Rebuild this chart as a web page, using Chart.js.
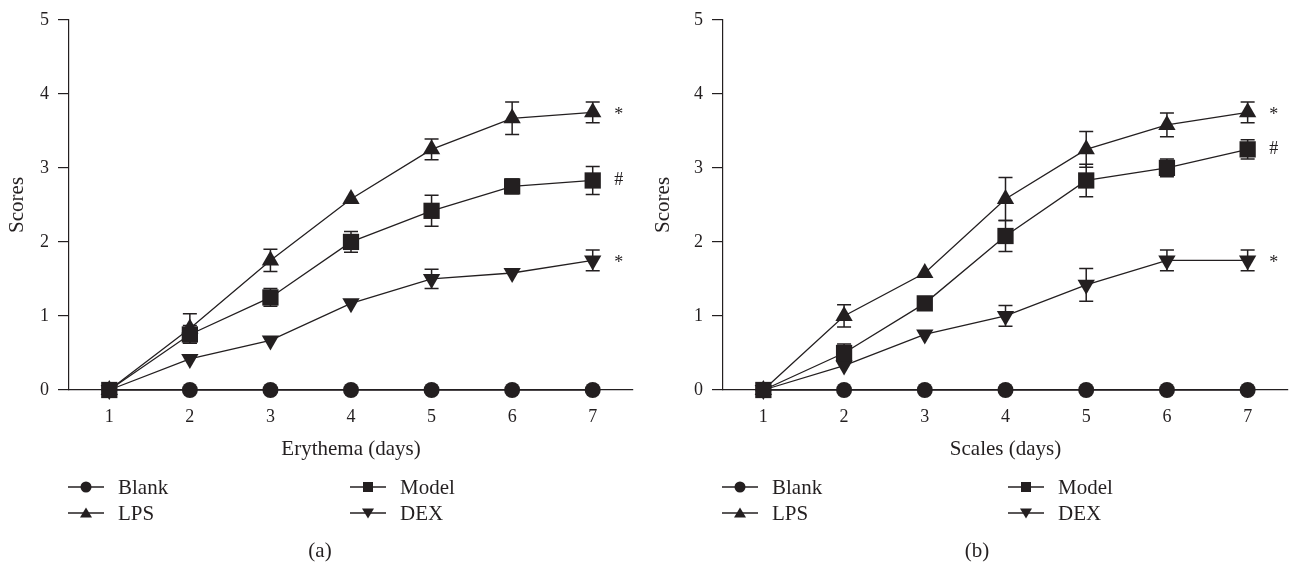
<!DOCTYPE html>
<html>
<head>
<meta charset="utf-8">
<script src="https://cdn.jsdelivr.net/npm/chart.js@4.4.1/dist/chart.umd.min.js"></script>
<style>
    body { margin: 0; background: #fff; }
    #wrap { position: relative; width: 1293px; height: 569px; font-family: "Liberation Serif", "DejaVu Serif", serif; color: #231f20; }
    canvas { position: absolute; top: 0; }
    .item { position: absolute; display: flex; align-items: center; font-size: 21px; height: 24px; line-height: 24px; }
    .item svg { margin-right: 14px; }
    .tag { position: absolute; font-size: 21px; transform: translateX(-50%); }
</style>
</head>
<body>
<div id="wrap">
    <canvas id="chartA" width="646" height="569" style="left:0"></canvas>
    <canvas id="chartB" width="647" height="569" style="left:646px"></canvas>
</div>
<script>
// data
const days = [1, 2, 3, 4, 5, 6, 7];
const dayTicks = [1, 2, 3, 4, 5, 6, 7];
const scoreTicks = [0, 1, 2, 3, 4, 5];

const seriesNames = ["Blank", "Model", "LPS", "DEX"];

// (a) Erythema
const blankA = [0, 0, 0, 0, 0, 0, 0];
const modelA = [0, 0.75, 1.25, 2.0, 2.42, 2.75, 2.83];
const lpsA = [0, 0.83, 1.75, 2.58, 3.25, 3.67, 3.75];
const dexA = [0, 0.42, 0.67, 1.17, 1.5, 1.58, 1.75];
const modelErrA = [0, 0.12, 0.12, 0.14, 0.21, 0.1, 0.19];
const lpsErrA = [0, 0.2, 0.15, 0, 0.14, 0.22, 0.14];
const dexErrA = [0, 0, 0, 0, 0.13, 0, 0.14];

// (b) Scales
const blankB = [0, 0, 0, 0, 0, 0, 0];
const modelB = [0, 0.5, 1.17, 2.08, 2.83, 3.0, 3.25];
const lpsB = [0, 1.0, 1.58, 2.58, 3.25, 3.58, 3.75];
const dexB = [0, 0.33, 0.75, 1.0, 1.42, 1.75, 1.75];
const modelErrB = [0, 0.12, 0, 0.21, 0.22, 0.12, 0.13];
const lpsErrB = [0, 0.15, 0, 0.29, 0.24, 0.16, 0.14];
const dexErrB = [0, 0, 0, 0.14, 0.22, 0.14, 0.14];

// significance marks at day 7: Model, LPS, DEX
const sigMarks = ["#", "*", "*"];

const INK = "#231f20";
const FONT = '"Liberation Serif", "DejaVu Serif", serif';

const markers = {
    Blank: { style: "circle", radius: 8, rotation: 0 },
    Model: { style: "rect", radius: 11.5, rotation: 0 },
    LPS: { style: "triangle", radius: 10, rotation: 0 },
    DEX: { style: "triangle", radius: 10, rotation: 180 },
};

// error bars drawn under the markers
const errorBars = {
    id: "errorBars",
    beforeDatasetsDraw(chart) {
        const { ctx, scales } = chart;
        ctx.save();
        ctx.strokeStyle = INK;
        ctx.lineWidth = 1.5;
        chart.data.datasets.forEach((ds) => {
            (ds.errors || []).forEach((e, i) => {
                if (!e) return;
                const px = scales.x.getPixelForValue(ds.data[i].x);
                const top = scales.y.getPixelForValue(ds.data[i].y + e);
                const bot = scales.y.getPixelForValue(ds.data[i].y - e);
                ctx.beginPath();
                ctx.moveTo(px, top);
                ctx.lineTo(px, bot);
                ctx.moveTo(px - 7, top);
                ctx.lineTo(px + 7, top);
                ctx.moveTo(px - 7, bot);
                ctx.lineTo(px + 7, bot);
                ctx.stroke();
            });
        });
        ctx.restore();
    },
    afterDatasetsDraw(chart) {
        const { ctx, scales } = chart;
        ctx.save();
        ctx.fillStyle = INK;
        ctx.font = "18px " + FONT;
        ctx.textAlign = "center";
        ctx.textBaseline = "middle";
        chart.data.datasets.forEach((ds) => {
            if (!ds.sig) return;
            const last = ds.data[ds.data.length - 1];
            const px = scales.x.getPixelForValue(last.x) + 26;
            const py = scales.y.getPixelForValue(last.y);
            ctx.fillText(ds.sig, px, py + (ds.sig === "*" ? 3 : 0));
        });
        ctx.restore();
    },
};

function makeDataset(name, values, errors, sig, order) {
    const m = markers[name];
    return {
        label: name,
        data: days.map((d, i) => ({ x: d, y: values[i] })),
        errors: errors,
        sig: sig,
        order: order,
        clip: false,
        borderColor: INK,
        backgroundColor: INK,
        borderWidth: 1.3,
        pointStyle: m.style,
        pointRadius: m.radius,
        pointRotation: m.rotation,
        pointBorderWidth: 0,
        pointBackgroundColor: INK,
        tension: 0,
    };
}

function makeChart(id, xTitle, yWidth, padRight, sets) {
    const ctx = document.getElementById(id).getContext("2d");
    return new Chart(ctx, {
        type: "line",
        data: { datasets: sets },
        options: {
            responsive: false,
            animation: false,
            layout: {
                autoPadding: false,
                padding: { left: 0, top: 16, right: padRight, bottom: 569 - 390 - 76 },
            },
            plugins: { legend: { display: false }, tooltip: { enabled: false } },
            scales: {
                x: {
                    type: "linear",
                    min: 0.5,
                    max: 7.5,
                    afterBuildTicks: (s) => {
                        s.ticks = dayTicks.map((v) => ({ value: v }));
                    },
                    afterFit: (s) => {
                        s.height = 76;
                    },
                    ticks: { color: INK, padding: 11, font: { family: FONT, size: 18 } },
                    grid: { drawOnChartArea: false, tickLength: 5, color: INK, lineWidth: 1.2 },
                    border: { color: INK, width: 1.2 },
                    title: {
                        display: true,
                        text: xTitle,
                        color: INK,
                        font: { family: FONT, size: 21 },
                        padding: { top: 4, bottom: 4 },
                    },
                },
                y: {
                    min: 0,
                    max: 5,
                    afterBuildTicks: (s) => {
                        s.ticks = scoreTicks.map((v) => ({ value: v }));
                    },
                    afterFit: (s) => {
                        s.width = yWidth;
                    },
                    ticks: { color: INK, padding: 9, font: { family: FONT, size: 18 } },
                    grid: { drawOnChartArea: false, tickLength: 11, color: INK, lineWidth: 1.2 },
                    border: { color: INK, width: 1.2 },
                    title: {
                        display: true,
                        text: "Scores",
                        color: INK,
                        font: { family: FONT, size: 21 },
                        padding: { top: 5, bottom: 4 },
                    },
                },
            },
        },
        plugins: [errorBars],
    });
}

makeChart("chartA", "Erythema (days)", 69, 13, [
    makeDataset("Model", modelA, modelErrA, sigMarks[0], 0),
    makeDataset("LPS", lpsA, lpsErrA, sigMarks[1], 1),
    makeDataset("DEX", dexA, dexErrA, sigMarks[2], 2),
    makeDataset("Blank", blankA, null, null, 3),
]);

makeChart("chartB", "Scales (days)", 77, 5, [
    makeDataset("Model", modelB, modelErrB, sigMarks[0], 0),
    makeDataset("LPS", lpsB, lpsErrB, sigMarks[1], 1),
    makeDataset("DEX", dexB, dexErrB, sigMarks[2], 2),
    makeDataset("Blank", blankB, null, null, 3),
]);

// legend + panel labels
function iconSvg(name) {
    const m = markers[name];
    let shape = "";
    if (m.style === "circle") shape = '<circle cx="18" cy="9" r="5.5" fill="' + INK + '"/>';
    else if (m.style === "rect") shape = '<rect x="13" y="4" width="10" height="10" fill="' + INK + '"/>';
    else if (m.rotation === 0) shape = '<polygon points="18,3.5 24,13.5 12,13.5" fill="' + INK + '"/>';
    else shape = '<polygon points="12,4.5 24,4.5 18,14.5" fill="' + INK + '"/>';
    return '<svg width="36" height="18" viewBox="0 0 36 18"><line x1="0" y1="9" x2="36" y2="9" stroke="' + INK + '" stroke-width="1.3"/>' + shape + "</svg>";
}

const wrap = document.getElementById("wrap");
const legendCols = [[68, 350], [722, 1008]];
const legendRows = [487, 513];
const legendGrid = [["Blank", "Model"], ["LPS", "DEX"]];

legendCols.forEach((cols) => {
    legendGrid.forEach((row, r) => {
        row.forEach((name, c) => {
            const el = document.createElement("div");
            el.className = "item";
            el.style.left = cols[c] + "px";
            el.style.top = legendRows[r] - 12 + "px";
            el.innerHTML = iconSvg(name) + "<span>" + name + "</span>";
            wrap.appendChild(el);
        });
    });
});

[["(a)", 320], ["(b)", 977]].forEach(([txt, x]) => {
    const el = document.createElement("div");
    el.className = "tag";
    el.style.left = x + "px";
    el.style.top = "538px";
    el.textContent = txt;
    wrap.appendChild(el);
});
</script>
</body>
</html>
